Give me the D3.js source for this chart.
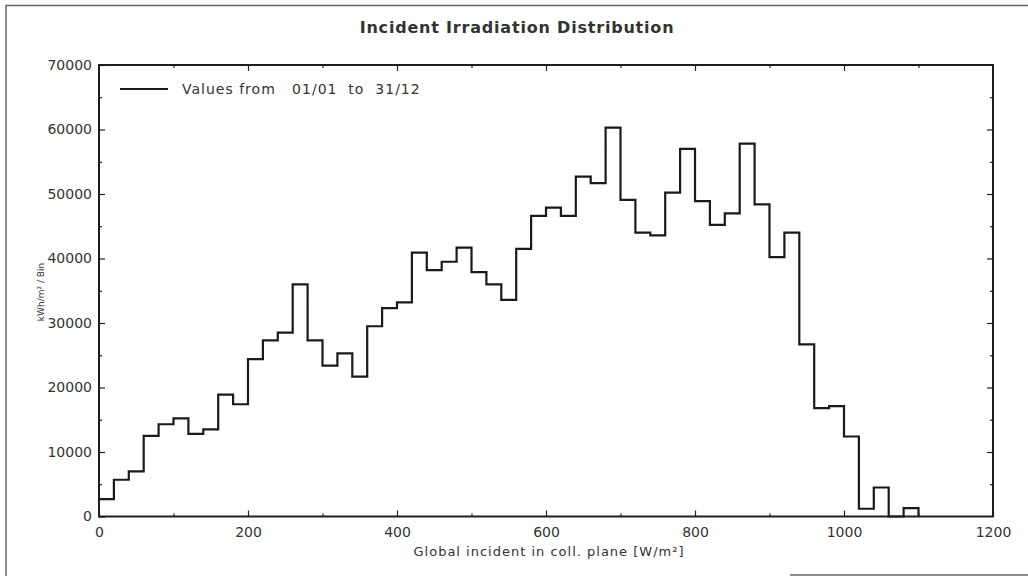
<!DOCTYPE html>
<html>
<head>
<meta charset="utf-8">
<script src="https://cdn.jsdelivr.net/npm/d3@7"></script>
<style>
  body { margin: 0; background: #fff; }
  svg { display: block; font-family: "DejaVu Sans", sans-serif; }
</style>
</head>
<body>
<div class="canvas"></div>
<script>
// bin width in W/m2 and the bins (kWh/m2 per bin)
const binWidth = 20;
const binStarts = d3.range(0, 1100, binWidth);
const binValues = [2700, 5700, 7000, 12500, 14300, 15200, 12800, 13500, 18900, 17400,
                   24400, 27300, 28500, 36000, 27300, 23400, 25300, 21700, 29500, 32300,
                   33200, 40900, 38200, 39500, 41700, 37900, 36000, 33600, 41500, 46600,
                   47900, 46600, 52700, 51700, 60300, 49100, 44000, 43600, 50200, 57000,
                   48900, 45200, 47000, 57800, 48400, 40200, 44000, 26700, 16800, 17100,
                   12400, 1200, 4500, 0, 1300];
const xTicks = [0, 200, 400, 600, 800, 1000, 1200];
const yTicks = [0, 10000, 20000, 30000, 40000, 50000, 60000, 70000];

const width = 1028, height = 576;
const margin = {top: 65, right: 35, bottom: 59.5, left: 99};
const graphWidth = width - margin.left - margin.right;
const graphHeight = height - margin.top - margin.bottom;

const svg = d3.select(".canvas").append("svg")
    .attr("width", width)
    .attr("height", height);

//scanned page frame
svg.append("path")
    .attr("d", "M6,576 V5.5 H1028")
    .attr("fill", "none")
    .attr("stroke", "#666")
    .attr("stroke-width", 1.5);
svg.append("line")
    .attr("x1", 790).attr("x2", 1028)
    .attr("y1", 575).attr("y2", 575)
    .attr("stroke", "#666")
    .attr("stroke-width", 1.5);

//title
svg.append("text")
    .attr("x", 517)
    .attr("y", 33)
    .attr("text-anchor", "middle")
    .attr("font-size", 16)
    .attr("font-weight", "bold")
    .attr("letter-spacing", 0.8)
    .attr("fill", "#333")
    .text("Incident Irradiation Distribution");

const graph = svg.append("g")
    .attr("transform", `translate(${margin.left}, ${margin.top})`);

//scales
const scaleX = d3.scaleLinear().domain([0, 1200]).range([0, graphWidth]);
const scaleY = d3.scaleLinear().domain([0, 70000]).range([graphHeight, 0]);

//axes: labelled ticks outside, tick marks point inward
const fmt = d3.format("d");
const tickColor = "#222";

const xMajor = d3.axisBottom(scaleX).tickValues(xTicks).tickSize(-6).tickPadding(11).tickFormat(fmt);
const xMinor = d3.axisBottom(scaleX).tickValues(d3.range(100, 1200, 200)).tickSize(-3).tickFormat("");
const yMajor = d3.axisLeft(scaleY).tickValues(yTicks).tickSize(-6).tickPadding(7).tickFormat(fmt);
const yMinor = d3.axisLeft(scaleY).tickValues(d3.range(5000, 70000, 10000)).tickSize(-3).tickFormat("");

graph.append("g").attr("transform", `translate(0, ${graphHeight})`).call(xMajor);
graph.append("g").attr("transform", `translate(0, ${graphHeight})`).call(xMinor);
graph.append("g").call(yMajor);
graph.append("g").call(yMinor);
graph.append("g").call(d3.axisTop(scaleX).tickValues(xTicks.slice(1, -1)).tickSize(-6).tickFormat(""));
graph.append("g").call(d3.axisTop(scaleX).tickValues(d3.range(100, 1200, 200)).tickSize(-3).tickFormat(""));
graph.append("g").attr("transform", `translate(${graphWidth}, 0)`)
    .call(d3.axisRight(scaleY).tickValues(yTicks.slice(1, -1)).tickSize(-6).tickFormat(""));
graph.append("g").attr("transform", `translate(${graphWidth}, 0)`)
    .call(d3.axisRight(scaleY).tickValues(d3.range(5000, 70000, 10000)).tickSize(-3).tickFormat(""));

graph.selectAll(".domain").remove();
graph.selectAll(".tick line").attr("stroke", tickColor).attr("stroke-width", 1.2);
graph.selectAll(".tick text")
    .attr("font-family", "DejaVu Sans, sans-serif")
    .attr("font-size", 14)
    .attr("fill", "#333");

//plot frame
graph.append("rect")
    .attr("width", graphWidth)
    .attr("height", graphHeight)
    .attr("fill", "none")
    .attr("stroke", "#1e1e1e")
    .attr("stroke-width", 2);

//step histogram outline
const pts = binStarts.map((x, i) => [x, binValues[i]]);
pts.push([binStarts[binStarts.length - 1] + binWidth, binValues[binValues.length - 1]]);
pts.push([binStarts[binStarts.length - 1] + binWidth, 0]);

const line = d3.line()
    .x(d => scaleX(d[0]))
    .y(d => scaleY(d[1]))
    .curve(d3.curveStepAfter);

graph.append("path")
    .datum(pts)
    .attr("d", line)
    .attr("fill", "none")
    .attr("stroke", "#1a1a1a")
    .attr("stroke-width", 2.2);

//legend
graph.append("line")
    .attr("x1", 21).attr("x2", 69)
    .attr("y1", 24).attr("y2", 24)
    .attr("stroke", "#1a1a1a")
    .attr("stroke-width", 2.2);
graph.append("text")
    .attr("x", 83)
    .attr("y", 29)
    .attr("font-size", 14)
    .attr("letter-spacing", 1)
    .attr("fill", "#333")
    .style("white-space", "pre")
    .text("Values from   01/01  to  31/12");

//axis titles
svg.append("text")
    .attr("x", 549)
    .attr("y", 556)
    .attr("text-anchor", "middle")
    .attr("font-size", 13)
    .attr("letter-spacing", 1)
    .attr("fill", "#333")
    .text("Global incident in coll. plane [W/m²]");

svg.append("text")
    .attr("transform", "translate(44, 292) rotate(-90)")
    .attr("text-anchor", "middle")
    .attr("font-size", 9)
    .attr("fill", "#333")
    .text("kWh/m² / Bin");
</script>
</body>
</html>
